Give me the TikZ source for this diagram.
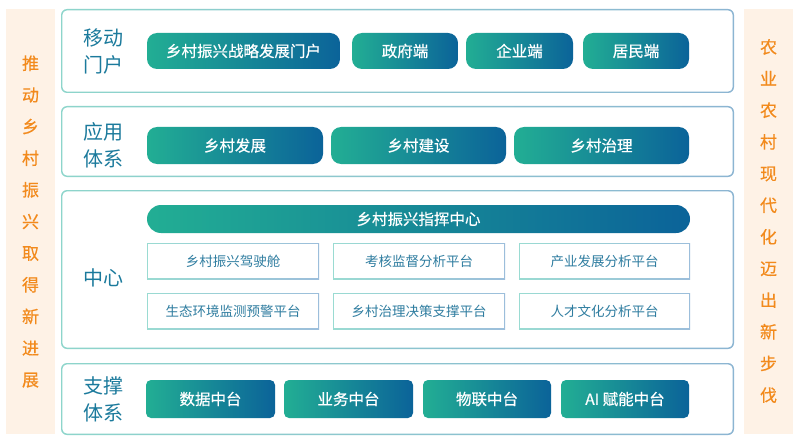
\documentclass[tikz,border=0pt]{standalone}
\usepackage{fontspec}
\setmainfont{Noto Sans CJK SC}
\newfontfamily\cjkm[FakeBold=0.5]{Noto Sans CJK SC}
\definecolor{pL}{HTML}{22AE94}
\definecolor{pR}{HTML}{0B6399}
\definecolor{secL}{HTML}{8DD5CB}
\definecolor{secR}{HTML}{8CB5D2}
\definecolor{lab}{HTML}{1B7A9C}
\definecolor{boxtxt}{HTML}{2F7DA0}
\definecolor{boxL}{HTML}{9ADBD2}
\definecolor{boxR}{HTML}{9CBEDB}
\definecolor{sidefill}{HTML}{FEF2E6}
\definecolor{sidetxt}{HTML}{F28A1C}
\begin{document}
\begin{tikzpicture}[x=1pt,y=-1pt,
  every node/.style={inner sep=0pt, outer sep=0pt},
  secshade/.style={rectangle, left color=secL, right color=secR, rounded corners=6pt, draw=none},
  secin/.style={rectangle, fill=white, rounded corners=5pt, draw=none},
  boxshade/.style={rectangle, left color=boxL, right color=boxR, draw=none},
  boxin/.style={rectangle, fill=white, draw=none, text=boxtxt, font=\fontsize{13.5}{16}\selectfont},
  pill/.style={rectangle, left color=pL, right color=pR, rounded corners=10pt, text=white, font=\cjkm\fontsize{15.5}{18}\selectfont},
  pillsq/.style={pill, rounded corners=5pt},
  seclab/.style={align=center, text=lab, font=\fontsize{20}{27}\selectfont},
  sidepanel/.style={rectangle, fill=sidefill, minimum width=49pt, minimum height=425pt},
  sidetext/.style={align=center, text=sidetxt, font=\cjkm\fontsize{17}{31.65}\selectfont}
]
\useasboundingbox[fill=white] (0,0) rectangle (800,441);

% side panels
\node[sidepanel] (lp) at (30.5,221.5) {};
\node[sidepanel] (rp) at (768.5,221.5) {};
\node[sidetext] (lt) at (30.5,221.5) {推\\动\\乡\\村\\振\\兴\\取\\得\\新\\进\\展};
\node[sidetext] (rt) at (768.5,221) {农\\业\\农\\村\\现\\代\\化\\迈\\出\\新\\步\\伐};

% section frames
\node[secshade, minimum width=673pt, minimum height=84pt] (s1o) at (397.5,51) {};
\node[secin, minimum width=670.4pt, minimum height=81.4pt] (s1) at (397.5,51) {};
\node[secshade, minimum width=673pt, minimum height=71pt] (s2o) at (397.5,141.5) {};
\node[secin, minimum width=670.4pt, minimum height=68.4pt] (s2) at (397.5,141.5) {};
\node[secshade, minimum width=673pt, minimum height=159pt] (s3o) at (397.5,269.5) {};
\node[secin, minimum width=670.4pt, minimum height=156.4pt] (s3) at (397.5,269.5) {};
\node[secshade, minimum width=673pt, minimum height=72pt] (s4o) at (397.5,399) {};
\node[secin, minimum width=670.4pt, minimum height=69.4pt] (s4) at (397.5,399) {};

% section labels
\node[seclab] (l1) at (103,51.5) {移动\\门户};
\node[seclab] (l2) at (103,145) {应用\\体系};
\node[seclab] (l3) at (103,278) {中心};
\node[seclab] (l4) at (103,399) {支撑\\体系};

% row 1
\node[pill, minimum width=193pt, minimum height=36pt] (p11) at (243.5,51) {乡村振兴战略发展门户};
\node[pill, minimum width=106pt, minimum height=36pt] (p12) at (405,51) {政府端};
\node[pill, minimum width=107pt, minimum height=36pt] (p13) at (519.5,51) {企业端};
\node[pill, minimum width=106pt, minimum height=36pt] (p14) at (636,51) {居民端};

% row 2
\node[pill, minimum width=176pt, minimum height=37pt] (p21) at (235,145.5) {乡村发展};
\node[pill, minimum width=175pt, minimum height=37pt] (p22) at (418.5,145.5) {乡村建设};
\node[pill, minimum width=175pt, minimum height=37pt] (p23) at (601.5,145.5) {乡村治理};

% row 3
\node[pill, rounded corners=14pt, minimum width=543pt, minimum height=28pt] (hd) at (418.5,219) {乡村振兴指挥中心};

\node[boxshade, minimum width=172pt, minimum height=36pt] (b1o) at (233,261) {};
\node[boxin, minimum width=169.6pt, minimum height=33.6pt] (b1) at (233,261) {乡村振兴驾驶舱};
\node[boxshade, minimum width=172pt, minimum height=36pt] (b2o) at (419,261) {};
\node[boxin, minimum width=169.6pt, minimum height=33.6pt] (b2) at (419,261) {考核监督分析平台};
\node[boxshade, minimum width=171pt, minimum height=36pt] (b3o) at (604.5,261) {};
\node[boxin, minimum width=168.6pt, minimum height=33.6pt] (b3) at (604.5,261) {产业发展分析平台};
\node[boxshade, minimum width=172pt, minimum height=36pt] (b4o) at (233,311) {};
\node[boxin, minimum width=169.6pt, minimum height=33.6pt] (b4) at (233,311) {生态环境监测预警平台};
\node[boxshade, minimum width=172pt, minimum height=36pt] (b5o) at (419,311) {};
\node[boxin, minimum width=169.6pt, minimum height=33.6pt] (b5) at (419,311) {乡村治理决策支撑平台};
\node[boxshade, minimum width=171pt, minimum height=36pt] (b6o) at (604.5,311) {};
\node[boxin, minimum width=168.6pt, minimum height=33.6pt] (b6) at (604.5,311) {人才文化分析平台};

% row 4
\node[pillsq, minimum width=129pt, minimum height=38pt] (p41) at (210.5,399) {数据中台};
\node[pillsq, minimum width=129pt, minimum height=38pt] (p42) at (348.5,399) {业务中台};
\node[pillsq, minimum width=128pt, minimum height=38pt] (p43) at (487,399) {物联中台};
\node[pillsq, minimum width=128pt, minimum height=38pt] (p44) at (625,399) {AI 赋能中台};
\end{tikzpicture}
\end{document}
